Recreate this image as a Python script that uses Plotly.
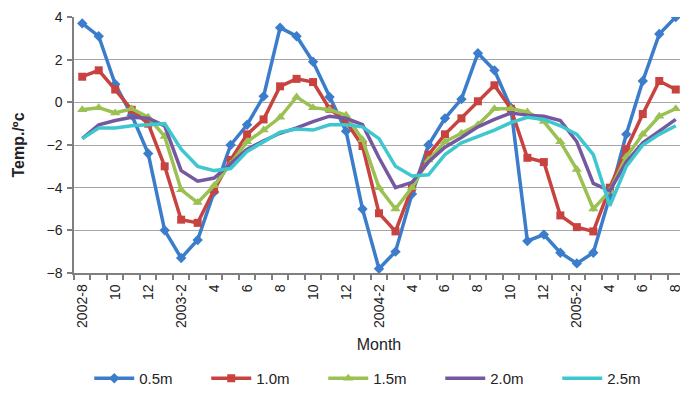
import plotly.graph_objects as go

months = ["2002-8", "9", "10", "11", "12", "2003-1", "2003-2", "3", "4", "5", "6", "7", "8", "9", "10", "11", "12",
          "2004-1", "2004-2", "3", "4", "5", "6", "7", "8", "9", "10", "11", "12",
          "2005-1", "2005-2", "3", "4", "5", "6", "7", "8"]
tick_labels = ["2002-8", "10", "12", "2003-2", "4", "6", "8", "10", "12", "2004-2", "4", "6", "8", "10", "12",
               "2005-2", "4", "6", "8"]

d05 = [3.7, 3.1, 0.85, -0.6, -2.4, -6.0, -7.3, -6.45, -4.2, -2.0, -1.05, 0.28, 3.5, 3.1, 1.9, 0.25, -1.35,
       -5.0, -7.8, -7.0, -4.3, -2.0, -0.75, 0.15, 2.3, 1.5, -0.25, -6.5, -6.2, -7.05, -7.55, -7.05, -4.4,
       -1.5, 1.0, 3.2, 4.0]
d10 = [1.2, 1.5, 0.6, -0.35, -1.0, -3.0, -5.5, -5.65, -4.1, -2.7, -1.5, -0.8, 0.75, 1.1, 0.95, -0.3, -0.9,
       -2.05, -5.2, -6.05, -4.0, -2.45, -1.5, -0.75, 0.05, 0.8, -0.3, -2.6, -2.8, -5.3, -5.85, -6.05, -4.0,
       -2.2, -0.55, 1.0, 0.6]
d15 = [-0.35, -0.25, -0.5, -0.3, -0.7, -1.6, -4.1, -4.7, -3.9, -2.9, -1.85, -1.3, -0.7, 0.25, -0.25, -0.35,
       -0.6, -1.75, -4.0, -5.0, -4.0, -2.7, -1.85, -1.45, -1.05, -0.3, -0.3, -0.45, -0.9, -1.85, -3.15, -5.0,
       -4.15, -2.55, -1.5, -0.65, -0.3]
d20 = [-1.7, -1.05, -0.85, -0.7, -0.75, -1.1, -3.2, -3.7, -3.55, -2.9, -2.2, -1.8, -1.45, -1.2, -0.9, -0.65,
       -0.75, -1.05, -2.6, -4.0, -3.75, -2.8, -2.1, -1.65, -1.15, -0.8, -0.5, -0.6, -0.65, -0.85, -1.85, -3.8,
       -4.15, -2.8, -1.9, -1.35, -0.8]
d25 = [-1.7, -1.2, -1.2, -1.1, -1.05, -1.0, -2.2, -3.0, -3.2, -3.1, -2.3, -1.85, -1.4, -1.25, -1.3, -1.05,
       -1.05, -1.15, -1.7, -3.0, -3.45, -3.4, -2.45, -1.9, -1.6, -1.3, -0.95, -0.7, -0.8, -1.1, -1.5, -2.45,
       -4.85, -3.0, -2.0, -1.5, -1.1]

series = [
    ("0.5m", d05, "#3B7DCB", "diamond", 8),
    ("1.0m", d10, "#C8433F", "square", 8),
    ("1.5m", d15, "#9BC152", "triangle-up", 9),
    ("2.0m", d20, "#7558A0", "circle", 0),
    ("2.5m", d25, "#3FC7CF", "circle", 0),
]

xi = list(range(len(months)))
fig = go.Figure()
for name, vals, col, sym, ms in series:
    fig.add_trace(go.Scatter(
        x=xi, y=vals, name=name, mode="lines+markers" if ms else "lines",
        line=dict(color=col, width=3.5),
        marker=dict(symbol=sym, size=ms, color=col),
        hovertext=months,
    ))

# page body has an 8px default margin, so the figure is 8px smaller than the window
fig.update_layout(
    width=680, height=405,
    margin=dict(l=66, r=4, t=9, b=140, autoexpand=False),
    paper_bgcolor="white", plot_bgcolor="white",
    font=dict(family="Liberation Sans, Arial, sans-serif", size=14, color="#222"),
    showlegend=True,
    legend=dict(orientation="h", x=0.025, xanchor="left", y=0.126, yanchor="top", yref="container",
                entrywidth=62, entrywidthmode="pixels", font=dict(size=15), itemwidth=40,
                traceorder="normal"),
)
fig.update_xaxes(
    range=[-0.5, len(months) - 0.5], automargin=False,
    tickmode="array", tickvals=xi[::2], ticktext=tick_labels,
    tickangle=-90, ticks="", showgrid=False, zeroline=False,
    showline=True, linecolor="#7f7f7f", linewidth=1.5,
    minor=dict(tick0=-0.5, dtick=1, ticks="outside", ticklen=5, tickcolor="#7f7f7f", tickwidth=1.5, showgrid=False),
    tickfont=dict(size=14), ticklabelstandoff=4,
    title=dict(text="Month", font=dict(size=16), standoff=12),
)
fig.update_yaxes(
    range=[-8, 4], tickmode="linear", tick0=-8, dtick=2, automargin=False,
    showgrid=True, gridcolor="#a6a6a6", gridwidth=1.2, zeroline=False,
    showline=True, linecolor="#7f7f7f", linewidth=1.5,
    ticks="outside", ticklen=5, tickcolor="#7f7f7f", tickwidth=1.5,
    tickfont=dict(size=14), ticklabelstandoff=2,
    title=dict(text="<b>Temp./ºc</b>", font=dict(size=16), standoff=18),
)

fig.write_html("out.html")
